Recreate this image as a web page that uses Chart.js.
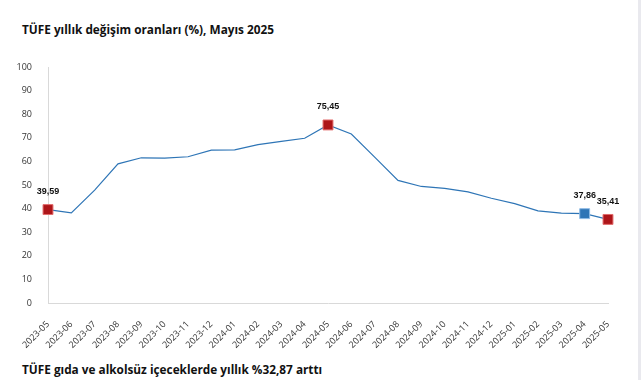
<!DOCTYPE html>
<html>
<head>
<meta charset="utf-8">
<script src="https://cdn.jsdelivr.net/npm/chart.js@4"></script>
<style>
  html, body { margin: 0; padding: 0; background: #fff; }
  body { width: 641px; height: 380px; position: relative; overflow: hidden; }
  .title { position: absolute; left: 22px; font-family: "Open Sans", "Noto Sans", sans-serif; font-weight: bold; font-size: 11.8px; color: #111; white-space: nowrap; }
  #top { top: 21px; }
  #bottom { top: 361px; }
  #wrap { position: absolute; left: 0; top: 50px; width: 641px; height: 300px; }
  #edge { position: absolute; right: 0; top: 0; width: 3px; height: 380px; background: #e9e9ee; }
</style>
</head>
<body>
<div class="title" id="top">TÜFE yıllık değişim oranları (%), Mayıs 2025</div>
<div id="wrap"><canvas id="myChart"></canvas></div>
<div class="title" id="bottom">TÜFE gıda ve alkolsüz içeceklerde yıllık %32,87 arttı</div>
<div id="edge"></div>
<script>
// Months on the x axis
const months = [
    "2023-05", "2023-06", "2023-07", "2023-08", "2023-09", "2023-10", "2023-11", "2023-12",
    "2024-01", "2024-02", "2024-03", "2024-04", "2024-05", "2024-06", "2024-07", "2024-08",
    "2024-09", "2024-10", "2024-11", "2024-12", "2025-01", "2025-02", "2025-03", "2025-04", "2025-05"
]

// Annual change (%)
const annualChange = [
    39.59, 38.21, 47.83, 58.94, 61.53, 61.36, 61.98, 64.77,
    64.86, 67.07, 68.50, 69.80, 75.45, 71.60, 61.78, 51.97,
    49.38, 48.58, 47.09, 44.38, 42.12, 39.05, 38.10, 37.86, 35.41
]

// Points that get a marker and a label
const redPoints = ["2023-05", "2024-05", "2025-05"]
const bluePoints = ["2025-04"]

const markColor = (m, red, blue, none) => {
    if (redPoints.includes(m)) return red
    if (bluePoints.includes(m)) return blue
    return none
}

// Draw value labels above the marked points
const valueLabels = {
    id: "valueLabels",
    afterDatasetsDraw(chart) {
        const meta = chart.getDatasetMeta(0)
        const c = chart.ctx
        c.save()
        c.font = "bold 9px 'Liberation Sans', Arial, sans-serif"
        c.fillStyle = "#111"
        c.textAlign = "center"
        c.textBaseline = "middle"
        months.forEach((m, i) => {
            if (!redPoints.includes(m) && !bluePoints.includes(m)) return
            const p = meta.data[i]
            c.fillText(annualChange[i].toFixed(2).replace(".", ","), p.x, p.y - 18)
        })
        c.restore()
    }
}

const ctx = document.getElementById("myChart")

const chart = new Chart(ctx, {
    type: "line",
    data: {
        labels: months,
        datasets: [{
            data: annualChange,
            borderColor: "#2E75B6",
            borderWidth: 1.2,
            tension: 0,
            pointStyle: "rect",
            pointRadius: months.map(m => markColor(m, 7, 7, 0)),
            pointBackgroundColor: months.map(m => markColor(m, "#AD1519", "#2E75B6", "#2E75B6")),
            pointBorderColor: months.map(m => markColor(m, "#E26B6B", "#8EBBE6", "#2E75B6")),
            pointBorderWidth: 1
        }]
    },
    options: {
        responsive: true,
        maintainAspectRatio: false,
        animation: false,
        layout: { padding: { top: 17, right: 33, left: 0, bottom: 0 } },
        plugins: {
            legend: { display: false },
            tooltip: { enabled: false }
        },
        scales: {
            x: {
                grid: { display: false },
                border: { display: true, color: "#d9d9d9" },
                ticks: {
                    minRotation: 45,
                    maxRotation: 45,
                    autoSkip: false,
                    padding: 8,
                    color: "#333",
                    font: { family: "'Open Sans', sans-serif", size: 9 }
                },
                afterFit: s => { s.height = 47 }
            },
            y: {
                min: 0,
                max: 100,
                grid: { display: false },
                border: { display: true, color: "#d9d9d9" },
                ticks: {
                    stepSize: 10,
                    padding: 8,
                    color: "#333",
                    font: { family: "'Open Sans', sans-serif", size: 9 }
                },
                afterFit: s => { s.width = 48 }
            }
        }
    },
    plugins: [valueLabels]
})
</script>
</body>
</html>
